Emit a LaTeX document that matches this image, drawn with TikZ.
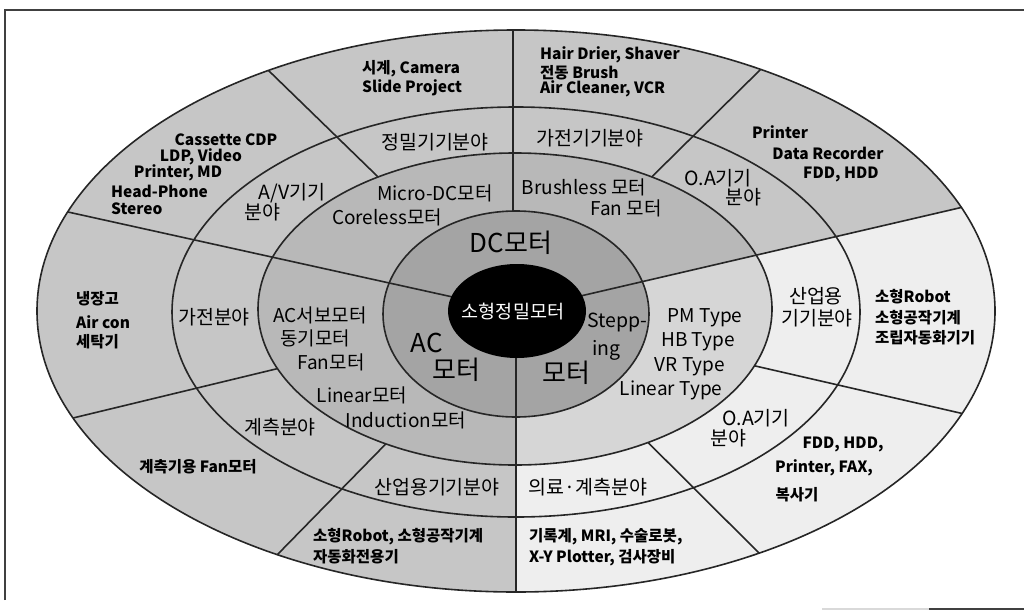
\documentclass[tikz,border=0pt]{standalone}
\usepackage{fontspec}
\setmainfont{Noto Sans CJK KR}
\usetikzlibrary{calc}
\definecolor{gcol}{HTML}{C6C6C6}
\definecolor{lcol}{HTML}{EEEEEE}
\definecolor{mtwo}{HTML}{B8B8B8}
\definecolor{mtwol}{HTML}{D6D6D6}
\definecolor{mone}{HTML}{A4A4A4}
\begin{document}
\begin{tikzpicture}[x=1pt,y=-1pt,
  ob/.style={font=\bfseries\fontsize{15.5}{15.5}\selectfont, inner sep=0pt},
  fld/.style={font=\fontsize{19.5}{19.5}\selectfont, inner sep=0pt},
  mot/.style={font=\fontsize{19}{19}\selectfont, inner sep=0pt},
  big/.style={font=\fontsize{26}{26}\selectfont, inner sep=0pt},
  ray/.style={line width=1.6pt, draw=black!85},
  ring/.style={line width=1.6pt, draw=black!85},
  frame/.style={line width=1.5pt, draw=black!75}
]
\useasboundingbox (0,0) rectangle (1024,610);
% centre and ray targets
\coordinate (C) at (516,311);
\coordinate (rTop) at (513,211);
\coordinate (rTopEnd) at (513,0);
\coordinate (rBot) at (516,700);
\coordinate (r3) at (68,212);
\coordinate (r4) at (959,208);
\coordinate (r5) at (268,70);
\coordinate (r6) at (760,70);
\coordinate (r7) at (73,418);
\coordinate (r8) at (277,555);
\coordinate (r9) at (759,553);
\coordinate (r10) at (960,413);
% frame
\draw[frame] (5,600) -- (5,10) -- (1024,10);
\draw[line width=1.5pt, black!15] (822,609) -- (929,609);
\draw[frame] (929,609) -- (1024,609);
% outer fills
\fill[gcol] (516,311) ellipse [x radius=479, y radius=281];
\begin{scope}
  \clip (516,311) ellipse [x radius=479, y radius=281];
  \fill[lcol] (C) -- ($(C)!3!(r4)$) -- (1900,800) -- (516,800) -- cycle;
  \foreach \p in {r5,r6,r7,r8,r9,r10} \draw[ray] (C) -- ($(C)!1.2!(\p)$);
\end{scope}
% ring 2 fills
\fill[mtwo] (515,309) ellipse [x radius=257, y radius=156];
\begin{scope}
  \clip (515,309) ellipse [x radius=257, y radius=156];
  \fill[mtwol] (C) -- ($(C)!3!(r4)$) -- (1900,800) -- (516,800) -- cycle;
\end{scope}
% ring 1 fill
\fill[mone] (516,314) ellipse [x radius=133, y radius=103];
% rays through inner rings
\begin{scope}
  \clip (516,311) ellipse [x radius=479, y radius=281];
  \draw[ray] (rTop) -- (rTopEnd);
  \draw[ray] (C) -- ($(C)!1.2!(r3)$);
  \draw[ray] (C) -- ($(C)!1.2!(r4)$);
  \draw[ray] (C) -- (rBot);
\end{scope}
% centre
\fill[black] (517,311) ellipse [x radius=69, y radius=47];
% outlines
\draw[ring] (516,314) ellipse [x radius=133, y radius=103];
\draw[ring] (515,309) ellipse [x radius=257, y radius=156];
\draw[ring] (516,312) ellipse [x radius=344, y radius=205];
\draw[ring] (516,311) ellipse [x radius=479, y radius=281];
% centre texts
\node[font=\fontsize{18.5}{18.5}\selectfont, text=white, inner sep=0pt] (ctr) at (513,312) {소형정밀모터};
\node[big] (dc) at (511,243) {DC모터};
\node[big] (ac1) at (427,343) {AC};
\node[big] (ac2) at (456,370) {모터};
\node[font=\fontsize{19.5}{19.5}\selectfont, inner sep=0pt, anchor=west] (st1) at (587,322) {Stepp-};
\node[font=\fontsize{19.5}{19.5}\selectfont, inner sep=0pt, anchor=west] (st2) at (592,350) {ing};
\node[big] (st3) at (566,373) {모터};
% ring 2 texts
\node[mot] (m1) at (435,193) {Micro-DC모터};
\node[mot] (m2) at (387,217) {Coreless모터};
\node[mot] (m3) at (584,187) {Brushless 모터};
\node[mot] (m4) at (626,208) {Fan 모터};
\node[mot] (m5) at (320,315) {AC서보모터};
\node[mot] (m6) at (315,338) {동기모터};
\node[mot] (m7) at (331,362) {Fan모터};
\node[mot] (m8) at (362,395) {Linear모터};
\node[mot] (m9) at (406,420) {Induction모터};
\node[mot] (m10) at (705,318) {PM Type};
\node[mot] (m11) at (698,342) {HB Type};
\node[mot] (m12) at (690,367) {VR Type};
\node[mot] (m13) at (671,390) {Linear Type};
% ring 3 texts
\node[fld] (f1) at (435,142) {정밀기기분야};
\node[fld] (f2) at (590,138) {가전기기분야};
\node[fld] (f3) at (718,178) {O.A기기};
\node[fld] (f4) at (743,197) {분야};
\node[fld] (f5) at (292,193) {A/V기기};
\node[fld] (f6) at (262,212) {분야};
\node[fld] (f7) at (214,317) {가전분야};
\node[fld] (f8) at (280,427) {계측분야};
\node[fld] (f9) at (437,487) {산업용기기분야};
\node[fld] (f10) at (588,487) {의료·계측분야};
\node[fld] (f11) at (756,418) {O.A기기};
\node[fld] (f12) at (728,438) {분야};
\node[fld] (f13) at (816,296) {산업용};
\node[fld] (f14) at (817,318) {기기분야};
% outer texts
\node[ob, anchor=west] (o1) at (362,69) {시계, Camera};
\node[ob, anchor=west] (o2) at (362,88) {Slide Project};
\node[ob, anchor=west] (o3) at (540,55) {Hair Drier, Shaver};
\node[ob, anchor=west] (o4) at (540,73) {전동 Brush};
\node[ob, anchor=west] (o5) at (540,89) {Air Cleaner, VCR};
\node[ob] (o6) at (780,132) {Printer};
\node[ob] (o7) at (828,153) {Data Recorder};
\node[ob] (o8) at (841,174) {FDD, HDD};
\node[ob] (o9) at (226,140) {Cassette CDP};
\node[ob] (o10) at (201,157) {LDP, Video};
\node[ob] (o11) at (178,173) {Printer, MD};
\node[ob, anchor=west] (o12) at (111,191) {Head-Phone};
\node[ob, anchor=west] (o13) at (111,209) {Stereo};
\node[ob, anchor=west] (o14) at (76,299) {냉장고};
\node[ob, anchor=west] (o15) at (76,322) {Air con};
\node[ob, anchor=west] (o16) at (76,342) {세탁기};
\node[ob] (o17) at (198,467) {계측기용 Fan모터};
\node[ob, anchor=west] (o18) at (313,537) {소형Robot, 소형공작기계};
\node[ob, anchor=west] (o19) at (313,557) {자동화전용기};
\node[ob, anchor=west] (o20) at (529,537) {기록계, MRI, 수술로봇,};
\node[ob, anchor=west] (o21) at (529,558) {X-Y Plotter, 검사장비};
\node[ob] (o22) at (843,444) {FDD, HDD,};
\node[ob] (o23) at (824,468) {Printer, FAX,};
\node[ob] (o24) at (797,495) {복사기};
\node[ob, anchor=west] (o25) at (875,297) {소형Robot};
\node[ob, anchor=west] (o26) at (875,318) {소형공작기계};
\node[ob, anchor=west] (o27) at (875,338) {조립자동화기기};
\end{tikzpicture}
\end{document}
